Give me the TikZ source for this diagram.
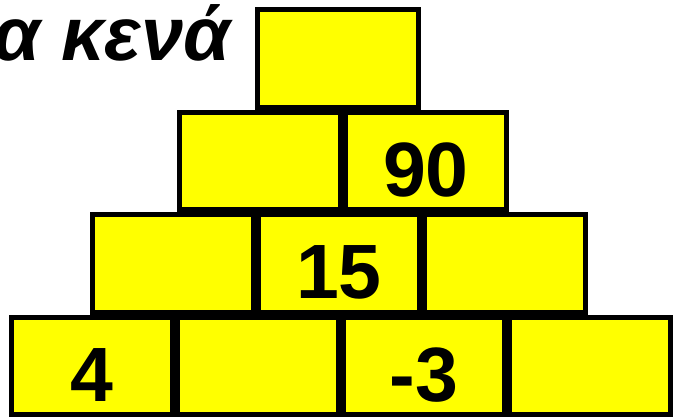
\documentclass[tikz,border=0pt]{standalone}
\usepackage{fontspec}
\setmainfont{Liberation Sans}
\usetikzlibrary{positioning}
\definecolor{brickyellow}{RGB}{255,255,0}
\tikzset{
  brick/.style ={draw, line width=5pt, fill=brickyellow, minimum width=161pt, minimum height=97.5pt, outer sep=2.5pt, inner sep=0pt, text height=71pt, text depth=0pt, font=\fontsize{77}{80}\selectfont\bfseries},
  title/.style ={font=\fontsize{76}{80}\selectfont\bfseries\itshape, inner sep=0pt},
}
\begin{document}
\begin{tikzpicture}[x=1pt,y=-1pt]
  \useasboundingbox (0,0) rectangle (676,417);
  % bottom row
  \node[brick] (b41) at (92,365.75) {4};
  \node[brick, right=0pt of b41] (b42) {};
  \node[brick, right=0pt of b42] (b43) {-3};
  \node[brick, right=0pt of b43] (b44) {};
  % third row
  \node[brick] (b31) at (173,263.25) {};
  \node[brick, right=0pt of b31] (b32) {15};
  \node[brick, right=0pt of b32] (b33) {};
  % second row
  \node[brick] (b21) at (260,160.75) {};
  \node[brick, right=0pt of b21] (b22) {90};
  % top
  \node[brick] (b11) at (338,58.25) {};
  \node[title, anchor=base east] (ttl) at (231,61) {α κενά};
\end{tikzpicture}
\end{document}
